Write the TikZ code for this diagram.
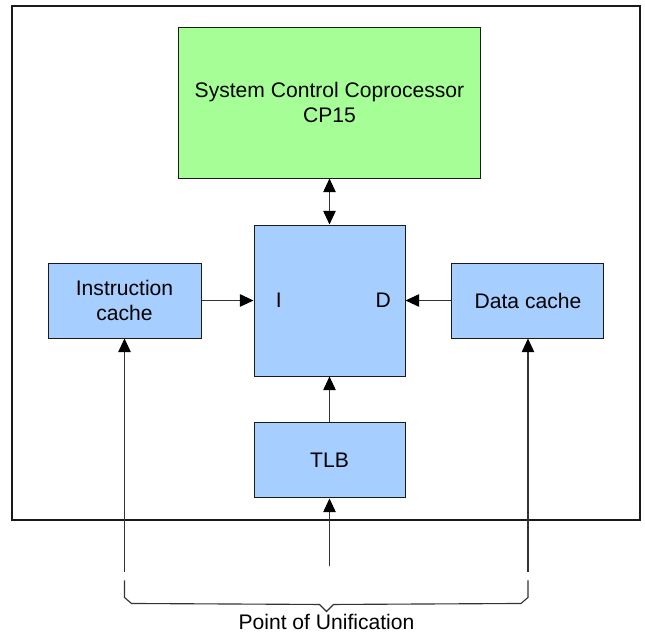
\documentclass[tikz,border=0pt]{standalone}
\usepackage{fontspec}
\setmainfont{Liberation Sans}
\usetikzlibrary{arrows.meta,positioning,calc}
\definecolor{cpgreen}{HTML}{A6FF96}
\definecolor{cpblue}{HTML}{A6CEFF}
\definecolor{cpline}{HTML}{1A1A1A}
\definecolor{cpwire}{HTML}{333333}

\begin{document}
\begin{tikzpicture}[
  node distance=11.5mm,
  font=\fontsize{15}{18}\selectfont,
  unit/.style={draw=cpline, line width=0.7pt, fill=cpblue, align=center,
               minimum width=37.75mm, minimum height=18.75mm, inner sep=0pt},
  cpbox/.style={draw=cpline, line width=0.7pt, fill=cpgreen, align=center,
                minimum width=75.5mm, minimum height=37.75mm},
  arr/.style={-{Triangle[length=3.4mm, width=3.1mm, color=black]}, cpwire, line width=0.8pt},
  biarr/.style={{Triangle[length=3.4mm, width=3.1mm, color=black]}-{Triangle[length=3.4mm, width=3.1mm, color=black]},
                cpwire, line width=0.8pt},
  port/.style={inner sep=0pt},
]

\useasboundingbox (-82.375mm,75.125mm) rectangle (78.875mm,-82.875mm);

%% Outer frame
\draw[line width=0.8pt, cpline] (-79.375mm,73.625mm) rectangle (77.625mm,-54.875mm);

%% Central block with its two ports
\node[unit, minimum height=37.75mm] (core) at (0,0) {};
\node[port, anchor=west] (iport) at ($(core.west)+(5.5mm,0)$) {I};
\node[port, anchor=east] (dport) at ($(core.east)+(-3.6mm,0)$) {D};

%% Surrounding blocks
\node[cpbox, above=of core] (cp15) {System Control Coprocessor\\CP15};
\node[unit, left=13mm of core, minimum width=38.25mm] (icache) {Instruction\\cache};
\node[unit, right=of core, minimum width=38mm] (dcache) {Data cache};
\node[unit, below=of core] (tlb) {TLB};

%% Free ends of the incoming lines
\coordinate (ifeed) at ($(icache.south)+(0,-58.5mm)$);
\coordinate (tfeed) at ($(tlb.south)+(0,-17mm)$);
\coordinate (dfeed) at ($(dcache.south)+(0,-58.5mm)$);

%% Connections
\draw[biarr] (cp15) -- (core);
\draw[arr] (icache) -- (core);
\draw[arr] (dcache) -- (core);
\draw[arr] (tlb) -- (core);
\draw[arr] (ifeed) -- (icache);
\draw[arr] (tfeed) -- (tlb);
\draw[arr] (dfeed) -- (dcache);

%% Brace
\draw[line width=0.8pt, cpwire]
  ($(ifeed)+(0,-2mm)$) -- ++(0,-4.25mm) -- ++(1.75mm,-1.5mm)
  -- ($(tfeed)+(-2.5mm,-9.5mm)$) -- ++(1.75mm,-1.75mm) coordinate (tip)
  -- ++(1.75mm,1.75mm)
  -- ($(dfeed)+(-1.75mm,-7.75mm)$) -- ++(1.75mm,1.5mm) -- ++(0,4.25mm);
\node[below=0.6mm of tip, inner sep=0pt] (pou) {Point of Unification};

\end{tikzpicture}
\end{document}
